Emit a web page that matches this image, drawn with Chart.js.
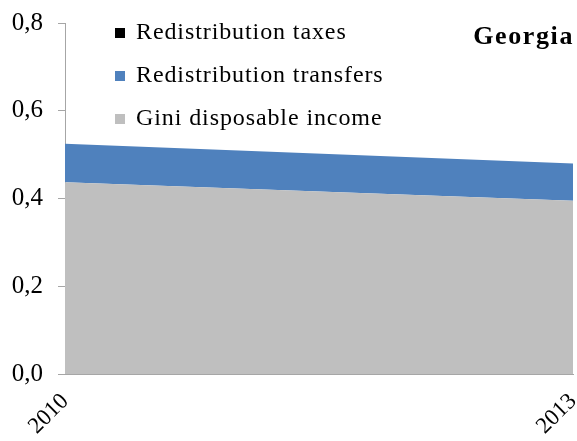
<!DOCTYPE html>
<html>
<head>
<meta charset="utf-8">
<script src="https://cdn.jsdelivr.net/npm/chart.js@4"></script>
<style>
  html, body { margin: 0; padding: 0; background: #fff; }
  #wrap { width: 577px; height: 441px; }
</style>
</head>
<body>
<div id="wrap"><canvas id="chart"></canvas></div>
<script>
const years = ['2010', '2013']
const giniDisposable = [0.437, 0.395]
const transfers = [0.088, 0.085]
const taxes = [0, 0]
const countryName = 'Georgia'

const serif = "'Liberation Serif', 'DejaVu Serif', serif"

// legend + country label drawn inside the plot, like the original
const insideLegend = {
  id: 'insideLegend',
  afterDraw(chart) {
    const { ctx, chartArea } = chart
    const items = chart.data.datasets.slice().reverse()
    ctx.save()
    ctx.font = '24px ' + serif
    ctx.letterSpacing = '0.9px'
    ctx.textBaseline = 'middle'
    items.forEach((ds, i) => {
      const y = chartArea.top + 10 + i * 43
      const x = chartArea.left + 50
      ctx.fillStyle = ds.backgroundColor
      ctx.fillRect(x, y - 5, 10, 10)
      ctx.fillStyle = '#000'
      ctx.fillText(ds.label, x + 21, y)
    })
    ctx.font = 'bold 26px ' + serif
    ctx.letterSpacing = '1.6px'
    ctx.textAlign = 'right'
    ctx.fillText(countryName, chartArea.right + 1, chartArea.top + 14)
    ctx.restore()
  }
}

new Chart(document.getElementById('chart'), {
  type: 'line',
  data: {
    labels: years,
    datasets: [
      {
        label: 'Gini disposable income',
        data: giniDisposable,
        backgroundColor: '#BFBFBF',
        borderWidth: 0,
        fill: 'origin',
        pointRadius: 0
      },
      {
        label: 'Redistribution transfers',
        data: transfers,
        backgroundColor: '#4F81BD',
        borderWidth: 0,
        fill: '-1',
        pointRadius: 0
      },
      {
        label: 'Redistribution taxes',
        data: taxes,
        backgroundColor: '#000000',
        borderWidth: 0,
        fill: '-1',
        pointRadius: 0
      }
    ]
  },
  options: {
    responsive: true,
    maintainAspectRatio: false,
    animation: false,
    layout: { padding: { top: 23, right: 4, left: 0, bottom: 0 } },
    plugins: {
      legend: { display: false },
      tooltip: { enabled: false }
    },
    scales: {
      x: {
        offset: false,
        grid: { display: false, drawTicks: false },
        border: { color: '#A6A6A6' },
        ticks: {
          color: '#000',
          font: { family: serif, size: 23 },
          minRotation: 45,
          maxRotation: 45,
          padding: 14
        },
        afterFit: s => {
          s.height = 67
          s.paddingLeft = 0
          s.paddingRight = 0
        }
      },
      y: {
        stacked: true,
        min: 0,
        max: 0.8,
        grid: { display: true, drawOnChartArea: false, tickLength: 7, color: '#A6A6A6' },
        border: { color: '#A6A6A6' },
        ticks: {
          stepSize: 0.2,
          color: '#000',
          padding: 15,
          font: { family: serif, size: 25 },
          callback: v => v.toFixed(1).replace('.', ',')
        },
        afterFit: s => {
          s.width = 65
          s.paddingTop = 0
          s.paddingBottom = 0
        }
      }
    }
  },
  plugins: [insideLegend]
})
</script>
</body>
</html>
